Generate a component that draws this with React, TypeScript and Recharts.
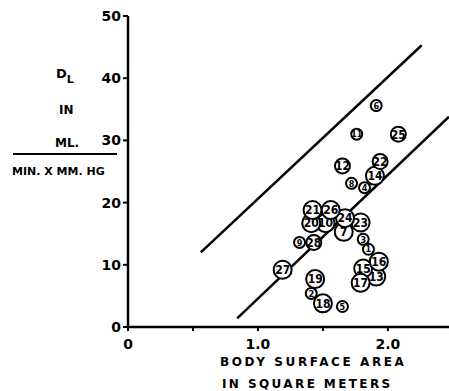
import { ScatterChart, Scatter, XAxis, YAxis } from "recharts";

// patient numbers, body surface area (m²) and DL (ml/min x mm Hg)
const ids = [1, 2, 3, 4, 5, 6, 7, 8, 9, 10, 11, 12, 13, 14, 15, 16, 17, 18, 19, 20, 21, 22, 23, 24, 25, 26, 27, 28];
const bsa = [1.85, 1.41, 1.81, 1.82, 1.65, 1.91, 1.66, 1.72, 1.32, 1.52, 1.76, 1.65, 1.91, 1.9, 1.81, 1.93, 1.79, 1.5, 1.44, 1.41, 1.42, 1.94, 1.79, 1.67, 2.08, 1.56, 1.19, 1.43];
const dl = [12.5, 5.4, 14.1, 22.4, 3.3, 35.6, 15.3, 23.1, 13.6, 16.7, 31.0, 25.9, 8.1, 24.3, 9.4, 10.5, 7.1, 3.8, 7.7, 16.7, 18.8, 26.6, 16.8, 17.5, 31.0, 18.8, 9.2, 13.6];

// the two parallel limit lines
const upperLine = [{ x: 0.56, y: 12.0 }, { x: 2.26, y: 45.3 }];
const lowerLine = [{ x: 0.84, y: 1.4 }, { x: 2.47, y: 33.8 }];

const xTicks = [0, 0.5, 1, 1.5, 2];
const xLabels: Record<number, string> = { 0: "0", 1: "1.0", 2: "2.0" };
const yTicks = [0, 10, 20, 30, 40, 50];

const smallIds = [1, 2, 3, 4, 5, 6, 8, 9, 11];
const midIds = [12, 22, 25, 28];

const points = ids.map((id, i) => ({ id, x: bsa[i], y: dl[i] }));

const FONT = "'DejaVu Sans', sans-serif";
const NUM_FONT = "'Liberation Sans Narrow', 'DejaVu Sans Condensed', sans-serif";

function Marker(props: any) {
  const { cx, cy, payload } = props;
  const r = smallIds.includes(payload.id) ? 5.5 : midIds.includes(payload.id) ? 7.5 : 9;
  return (
    <g>
      <circle cx={cx} cy={cy} r={r} fill="#fff" stroke="#000" strokeWidth={2} />
      <text
        x={cx}
        y={cy}
        dy="0.36em"
        textAnchor="middle"
        fontSize={r > 6 ? 12 : 9}
        fontWeight="bold"
        fontFamily={NUM_FONT}
        fill="#000"
      >
        {payload.id}
      </text>
    </g>
  );
}

const tickStyle = { fill: "#000", fontSize: 14, fontWeight: "bold", fontFamily: FONT } as const;

export default function App() {
  return (
    <div style={{ position: "absolute", left: 0, top: 0, width: 449, height: 391, background: "#fff", fontFamily: FONT }}>
      <ScatterChart width={449} height={391} margin={{ top: 16, right: 0, bottom: 34, left: 0 }}>
        <XAxis
          type="number"
          dataKey="x"
          domain={[0, 2.47]}
          ticks={xTicks}
          tickFormatter={(v: number) => xLabels[v] ?? ""}
          tick={tickStyle}
          tickSize={4}
          tickMargin={8}
          height={30}
          axisLine={{ stroke: "#000", strokeWidth: 2.5 }}
          tickLine={{ stroke: "#000", strokeWidth: 2 }}
          allowDataOverflow
        />
        <YAxis
          type="number"
          dataKey="y"
          domain={[0, 50]}
          ticks={yTicks}
          width={128}
          tick={tickStyle}
          tickSize={5}
          tickMargin={2}
          axisLine={{ stroke: "#000", strokeWidth: 2.5 }}
          tickLine={{ stroke: "#000", strokeWidth: 2 }}
        />
        <Scatter data={upperLine} line={{ stroke: "#000", strokeWidth: 2.5 }} shape={() => <g />} isAnimationActive={false} />
        <Scatter data={lowerLine} line={{ stroke: "#000", strokeWidth: 2.5 }} shape={() => <g />} isAnimationActive={false} />
        <Scatter data={points} shape={Marker} isAnimationActive={false} />
      </ScatterChart>

      {/* y axis title written as a fraction */}
      <div style={{ position: "absolute", left: 56, top: 66, fontSize: 13, fontWeight: "bold" }}>
        D<span style={{ fontSize: 11, position: "relative", top: 5 }}>L</span>
      </div>
      <div style={{ position: "absolute", left: 59, top: 103, fontSize: 12, fontWeight: "bold" }}>IN</div>
      <div style={{ position: "absolute", left: 55, top: 136, fontSize: 12, fontWeight: "bold" }}>ML.</div>
      <div style={{ position: "absolute", left: 13, top: 153, width: 104, height: 0, borderTop: "2px solid #000" }} />
      <div style={{ position: "absolute", left: 12, top: 165, fontSize: 11, fontWeight: "bold", letterSpacing: 0 }}>
        MIN. X MM. HG
      </div>

      {/* x axis title */}
      <div style={{ position: "absolute", left: 220, top: 355, fontSize: 12, fontWeight: "bold", letterSpacing: 2.6 }}>
        BODY SURFACE AREA
      </div>
      <div style={{ position: "absolute", left: 222, top: 377, fontSize: 12, fontWeight: "bold", letterSpacing: 2.4 }}>
        IN SQUARE METERS
      </div>
    </div>
  );
}
